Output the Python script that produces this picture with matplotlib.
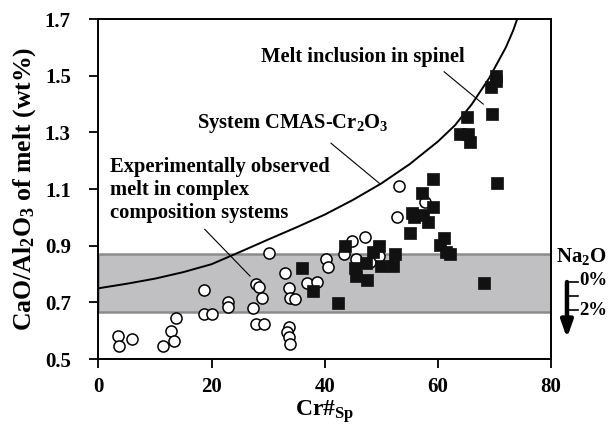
import numpy as np
import matplotlib
matplotlib.use("Agg")
import matplotlib.pyplot as plt

plt.rcParams['font.family'] = ['Liberation Serif', 'DejaVu Serif']
plt.rcParams['font.weight'] = 'bold'
plt.rcParams['mathtext.fontset'] = 'custom'
plt.rcParams['mathtext.rm'] = 'Liberation Serif:bold'
plt.rcParams['mathtext.bf'] = 'Liberation Serif:bold'
plt.rcParams['mathtext.it'] = 'Liberation Serif:bold'

# experimental melts from complex systems (open circles)
exp_cr = [3.5, 3.6, 6.0, 11.5, 12.9, 13.3, 13.8, 18.7, 18.7, 20.0, 22.9, 22.9,
          27.4, 27.8, 28.4, 29.0, 27.8, 29.3, 30.1, 33.0, 33.7, 33.9, 34.7, 33.6,
          33.3, 33.6, 33.9, 36.8, 38.6, 40.2, 40.6, 43.4, 44.8, 45.6, 47.2, 48.0,
          49.6, 52.7, 53.2, 57.7]
exp_ratio = [0.58, 0.545, 0.57, 0.545, 0.60, 0.565, 0.645, 0.745, 0.66, 0.66, 0.70, 0.685,
             0.68, 0.765, 0.755, 0.715, 0.625, 0.625, 0.874, 0.805, 0.752, 0.714, 0.711, 0.615,
             0.595, 0.577, 0.555, 0.767, 0.771, 0.855, 0.824, 0.871, 0.917, 0.855, 0.932, 0.843,
             0.865, 1.0, 1.112, 1.055]

# melt inclusions in spinel (filled squares)
incl_cr = [36.0, 38.0, 42.3, 43.5, 45.4, 45.6, 47.4, 47.3, 48.5, 49.6, 49.9, 52.0,
           52.5, 55.0, 55.4, 55.7, 57.2, 57.4, 58.2, 59.2, 59.2, 60.3, 61.0, 61.5,
           62.1, 63.9, 65.1, 65.3, 65.7, 68.2, 69.3, 69.6, 70.2, 70.3, 70.4]
incl_ratio = [0.82, 0.742, 0.697, 0.90, 0.82, 0.792, 0.781, 0.838, 0.877, 0.899, 0.83, 0.828,
              0.871, 0.946, 1.015, 1.0, 1.087, 1.008, 0.985, 1.134, 1.037, 0.902, 0.929, 0.879,
              0.871, 1.295, 1.354, 1.294, 1.267, 0.767, 1.46, 1.366, 1.48, 1.5, 1.122]

# CMAS-Cr2O3 system curve
cmas_cr = [0, 5, 10, 15, 20, 25, 30, 35, 40, 45, 50, 55, 60, 63, 66, 69, 72, 73.3, 74]
cmas_ratio = [0.75, 0.766, 0.784, 0.807, 0.835, 0.878, 0.922, 0.965, 1.01, 1.062, 1.12, 1.188,
              1.268, 1.325, 1.40, 1.49, 1.60, 1.66, 1.70]

# shaded band of CaO/Al2O3
band_lo, band_hi = 0.665, 0.87

fig = plt.figure(figsize=(6.11, 4.24), dpi=100)
ax = fig.add_axes([0.161, 0.153, 0.741, 0.802])

ax.axhspan(band_lo, band_hi, facecolor='#c0c0c2', edgecolor='#8c8c8c', linewidth=1.8, zorder=1)
ax.plot(cmas_cr, cmas_ratio, color='black', lw=1.4, zorder=2)
ax.scatter(exp_cr, exp_ratio, s=64, marker='o', facecolor='white', edgecolor='black',
           linewidth=1.1, zorder=3)
ax.scatter(incl_cr, incl_ratio, s=64, marker='s', facecolor='#111111', edgecolor='#111111',
           linewidth=0.5, zorder=4)

ax.set_xlim(0, 80)
ax.set_ylim(0.5, 1.7)
ax.set_xticks([0, 20, 40, 60, 80])
ax.set_yticks([0.5, 0.7, 0.9, 1.1, 1.3, 1.5, 1.7])
ax.set_yticklabels(['0.5', '0.7', '0.9', '1.1', '1.3', '1.5', '1.7'])
ax.tick_params(direction='out', length=6.8, width=1.3, labelsize=15)
ax.tick_params(axis='x', pad=6)
ax.tick_params(axis='y', pad=13)
for sp in ax.spines.values():
    sp.set_linewidth(1.4)

ax.set_xlabel(r'Cr#$_{\mathrm{Sp}}$', fontsize=17, fontweight='bold', labelpad=1)
ax.set_ylabel(r'CaO/Al$_2$O$_3$ of melt (wt%)', fontsize=18.5, fontweight='bold', labelpad=5)

# labels with pointer lines
ax.text(64.8, 1.566, 'Melt inclusion in spinel', fontsize=14.8, fontweight='bold',
        va='center', ha='right')
ax.plot([61.1, 68.0], [1.514, 1.40], color='black', lw=0.8)

ax.text(17.4, 1.33, r'System CMAS-Cr$_2$O$_3$', fontsize=14.8, fontweight='bold',
        va='center', ha='left')
ax.plot([41.1, 49.8], [1.262, 1.118], color='black', lw=0.8)

ax.text(2.0, 1.215, 'Experimentally observed\nmelt in complex\ncomposition systems',
        fontsize=14.8, fontweight='bold', va='top', ha='left', linespacing=1.2)
ax.plot([18.8, 26.8], [0.958, 0.793], color='black', lw=0.8)

# Na2O scale arrow beside the axes
ax.text(80.9, 0.862, r'Na$_2$O', fontsize=15, fontweight='bold', va='center', ha='left',
        clip_on=False)
ax.annotate('', xy=(82.8, 0.574), xytext=(82.8, 0.772), annotation_clip=False,
            arrowprops=dict(arrowstyle='-|>,head_width=0.35,head_length=1.0',
                            color='black', lw=3.2, shrinkA=0, shrinkB=0))
for yv in [0.772, 0.722, 0.674]:
    ax.plot([82.8, 84.7], [yv, yv], color='black', lw=1.2, clip_on=False)
ax.text(84.9, 0.776, '0%', fontsize=13.5, fontweight='bold', va='center', ha='left')
ax.text(84.9, 0.672, '2%', fontsize=13.5, fontweight='bold', va='center', ha='left')

fig.savefig('out.png', dpi=100)
